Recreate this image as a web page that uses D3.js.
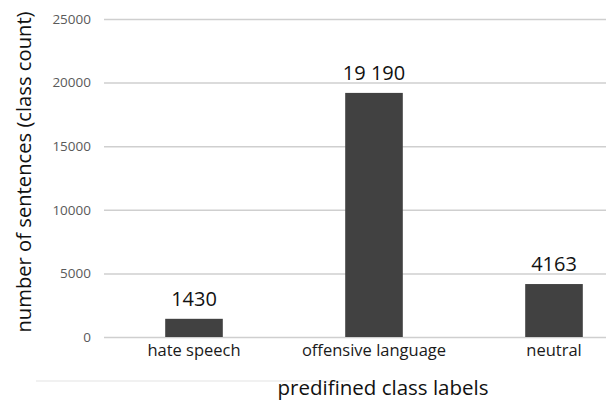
<!DOCTYPE html>
<html>
<head>
<meta charset="utf-8">
<script src="https://cdn.jsdelivr.net/npm/d3@7"></script>
<style>
  html, body { margin: 0; padding: 0; background: #fff; }
  svg { display: block; }
  text { font-family: "Open Sans", "Noto Sans", sans-serif; }
</style>
</head>
<body>
<svg id="chart" width="606" height="400"></svg>
<script>
// Class counts per predefined label
const categories = ["hate speech", "offensive language", "neutral"];
const counts = [1430, 19190, 4163];
const countLabels = ["1430", "19 190", "4163"];
const yTicks = [0, 5000, 10000, 15000, 20000, 25000];

const svg = d3.select("#chart");
const plot = { left: 104, right: 644, top: 19, bottom: 337 };

const x = d3.scaleBand()
  .domain(categories)
  .range([plot.left, plot.right])
  .paddingInner(0.68)
  .paddingOuter(0.34);

const y = d3.scaleLinear()
  .domain([0, 25000])
  .range([plot.bottom, plot.top]);

// faint separator under the category labels
svg.append("line")
  .attr("x1", 36).attr("x2", 350)
  .attr("y1", 381).attr("y2", 381)
  .attr("stroke", "#ededed").attr("stroke-width", 1.5);

// horizontal gridlines with tick labels
const yAxis = d3.axisLeft(y)
  .tickValues(yTicks)
  .tickSize(-(plot.right - plot.left))
  .tickPadding(13)
  .tickFormat(d3.format("d"));

const gy = svg.append("g")
  .attr("transform", `translate(${plot.left},0)`)
  .call(yAxis);
gy.select(".domain").remove();
gy.selectAll(".tick line")
  .attr("stroke", "#cfcfcf")
  .attr("stroke-width", 1.5);
gy.selectAll(".tick text")
  .attr("fill", "#5a5a5a")
  .attr("font-size", 13.5);

// bars
svg.append("g").selectAll("rect")
  .data(counts)
  .join("rect")
  .attr("x", (d, i) => x(categories[i]))
  .attr("width", x.bandwidth())
  .attr("y", d => y(d))
  .attr("height", d => y(0) - y(d))
  .attr("fill", "#414141");

// value labels above bars
svg.append("g").selectAll("text")
  .data(counts)
  .join("text")
  .attr("x", (d, i) => x(categories[i]) + x.bandwidth() / 2)
  .attr("y", d => y(d) - 13)
  .attr("text-anchor", "middle")
  .attr("font-size", 20)
  .attr("fill", "#111")
  .text((d, i) => countLabels[i]);

// category labels
const xAxis = d3.axisBottom(x).tickSize(0).tickPadding(7);
const gx = svg.append("g")
  .attr("transform", `translate(0,${plot.bottom})`)
  .call(xAxis);
gx.select(".domain").remove();
gx.selectAll(".tick text")
  .attr("font-size", 16.5)
  .attr("fill", "#1a1a1a");

// axis titles
svg.append("text")
  .attr("x", 383)
  .attr("y", 395)
  .attr("text-anchor", "middle")
  .attr("font-size", 20.5)
  .attr("fill", "#111")
  .text("predifined class labels");

svg.append("text")
  .attr("transform", "translate(31,172) rotate(-90)")
  .attr("text-anchor", "middle")
  .attr("font-size", 20.2)
  .attr("fill", "#111")
  .text("number of sentences (class count)");
</script>
</body>
</html>
